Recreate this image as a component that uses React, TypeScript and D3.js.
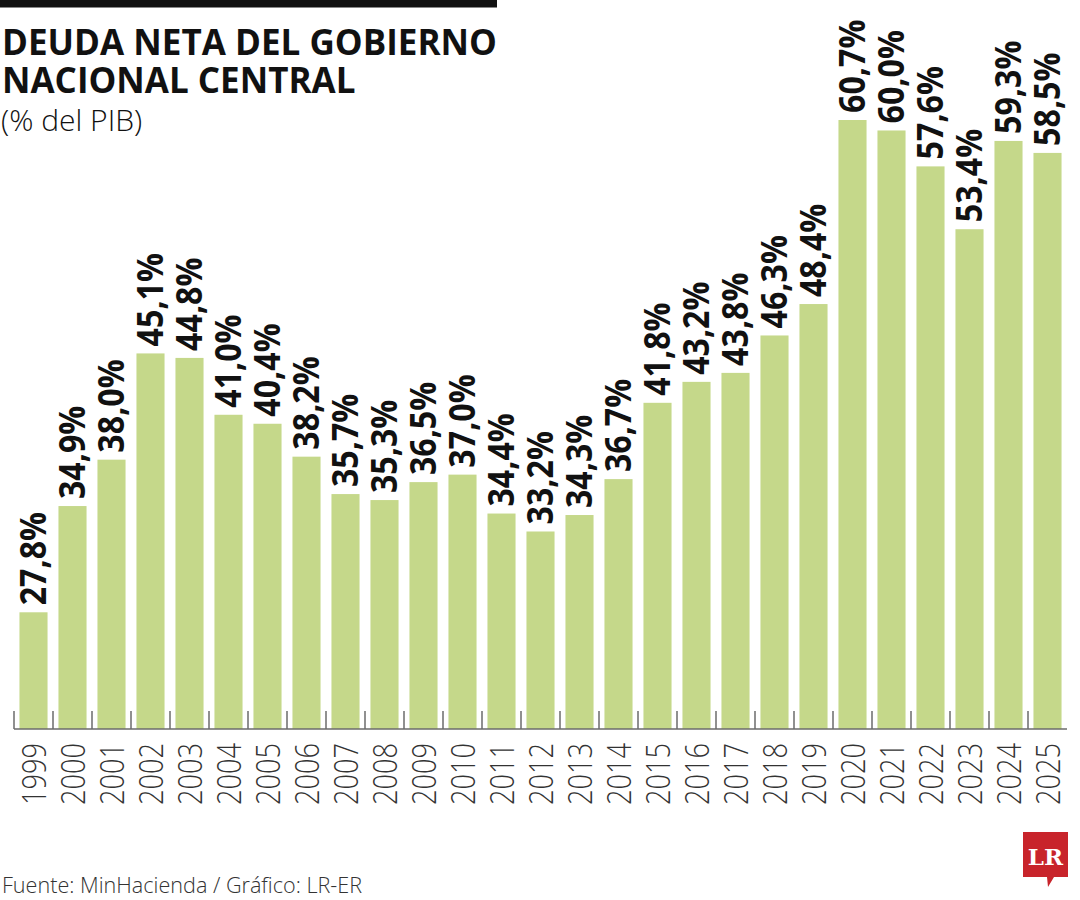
import React from 'react';
import * as d3 from 'd3';

const years = ['1999', '2000', '2001', '2002', '2003', '2004', '2005', '2006', '2007', '2008', '2009', '2010', '2011', '2012', '2013', '2014', '2015', '2016', '2017', '2018', '2019', '2020', '2021', '2022', '2023', '2024', '2025'];
const debt = [27.8, 34.9, 38.0, 45.1, 44.8, 41.0, 40.4, 38.2, 35.7, 35.3, 36.5, 37.0, 34.4, 33.2, 34.3, 36.7, 41.8, 43.2, 43.8, 46.3, 48.4, 60.7, 60.0, 57.6, 53.4, 59.3, 58.5];

const W = 1080;
const H = 900;
const baseY = 729;
const FONT = '"Open Sans", "Noto Sans", sans-serif';

const fmt = (v: number) => v.toFixed(1).replace('.', ',') + '%';

const App: React.FC = () => {
  const x = d3.scaleBand<string>()
    .domain(years)
    .range([14, 1067])
    .paddingInner(0.28)
    .paddingOuter(0.14);

  const y = d3.scaleLinear().domain([20, 60.7]).range([baseY, 120]);

  const step = x.step();
  const tickXs = years.map(yr => (x(yr) as number) - step * 0.14);

  return (
    <div style={{ position: 'absolute', left: 0, top: 0 }}>
      <svg width={W} height={H} viewBox={`0 0 ${W} ${H}`} style={{ display: 'block', background: '#fff' }}>
        {/* top rule */}
        <rect x={0} y={0} width={497} height={7.5} fill="#111" />

        {/* title */}
        <g fontFamily={FONT} fill="#111">
          <text x={2} y={55} fontSize={35} fontWeight={700} textLength={495} lengthAdjust="spacingAndGlyphs">DEUDA NETA DEL GOBIERNO</text>
          <text x={2} y={93} fontSize={35} fontWeight={700}>NACIONAL CENTRAL</text>
          <text x={1} y={131} fontSize={30} fontWeight={300}>(% del PIB)</text>
        </g>

        {/* bars */}
        {years.map((yr, i) => (
          <rect
            key={yr}
            x={x(yr)}
            y={y(debt[i])}
            width={x.bandwidth()}
            height={baseY - y(debt[i])}
            fill="#c5d88a"
          />
        ))}

        {/* axis */}
        <line x1={14} x2={1067} y1={baseY} y2={baseY} stroke="#6b6b6b" strokeWidth={1.5} />
        {tickXs.map((tx, i) => (
          <line key={i} x1={tx} x2={tx} y1={baseY - 18} y2={baseY} stroke="#6b6b6b" strokeWidth={1.5} />
        ))}

        {/* value labels */}
        {years.map((yr, i) => {
          const cx = (x(yr) as number) + x.bandwidth() / 2;
          return (
            <text
              key={yr}
              transform={`translate(${cx},${y(debt[i]) - 7}) rotate(-90) scale(0.92,1)`}
              dy="0.36em"
              fontFamily={FONT}
              fontWeight={700}
              fontSize={35}
              fill="#111"
            >
              {fmt(debt[i])}
            </text>
          );
        })}

        {/* year labels */}
        {years.map(yr => {
          const cx = (x(yr) as number) + x.bandwidth() / 2;
          return (
            <text
              key={yr}
              transform={`translate(${cx},743) rotate(-90) scale(0.81,1)`}
              dy="0.36em"
              textAnchor="end"
              fontFamily={FONT}
              fontWeight={300}
              fontSize={33.6}
              fill="#333"
            >
              {yr}
            </text>
          );
        })}

        {/* footer */}
        <text x={2} y={893} fontFamily={FONT} fontWeight={300} fontSize={21.6} fill="#333">
          Fuente: MinHacienda / Gráfico: LR-ER
        </text>

        {/* logo */}
        <g>
          <path d="M1023,832 H1068 V877 H1054 L1048,887 L1047,877 H1023 Z" fill="#c8242b" />
          <text x={1045.5} y={865} textAnchor="middle" fontFamily='"DejaVu Serif", "Liberation Serif", serif' fontWeight={700} fontSize={23} fill="#fff">LR</text>
        </g>
      </svg>
    </div>
  );
};

export default App;
